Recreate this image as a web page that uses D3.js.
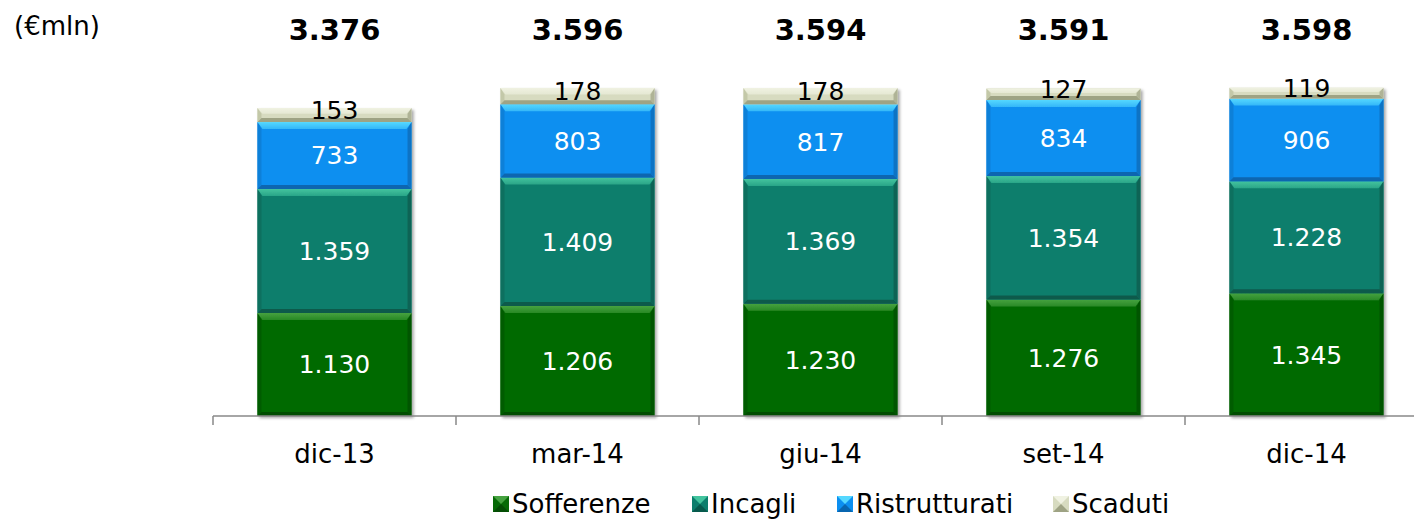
<!DOCTYPE html>
<html>
<head>
<meta charset="utf-8">
<script src="https://cdn.jsdelivr.net/npm/d3@7"></script>
<style>
  html, body { margin: 0; padding: 0; background: #fff; }
  svg { display: block; font-family: "DejaVu Sans", sans-serif; }
</style>
</head>
<body>
<svg id="chart" width="1414" height="520"></svg>
<script>
// Crediti deteriorati per trimestre (€mln)
const categories = ["dic-13", "mar-14", "giu-14", "set-14", "dic-14"];
const seriesNames = ["Sofferenze", "Incagli", "Ristrutturati", "Scaduti"];
const sofferenze = [1130, 1206, 1230, 1276, 1345];
const incagli = [1359, 1409, 1369, 1354, 1228];
const ristrutturati = [733, 803, 817, 834, 906];
const scaduti = [153, 178, 178, 127, 119];
const totals = [3376, 3596, 3594, 3591, 3598];

const palette = {
  Sofferenze:    { base: "#066a06", light: "#46a240", dark: "#044d04", side: "#055c05", label: "#ffffff" },
  Incagli:       { base: "#0c7e6c", light: "#43c49e", dark: "#075a4c", side: "#0a6f5f", label: "#ffffff" },
  Ristrutturati: { base: "#0c8ff0", light: "#55d8ff", dark: "#0866b0", side: "#0a80d8", label: "#ffffff" },
  Scaduti:       { base: "#d7dbc0", light: "#f0f2e2", dark: "#9ea384", side: "#c3c8a8", label: "#000000" }
};

const fmt = v => d3.format(",")(v).replace(/,/g, ".");

const svg = d3.select("#chart");
const baseY = 416;

const x = d3.scaleBand()
  .domain(categories)
  .range([213, 213 + 243 * categories.length])
  .paddingInner(0.366)
  .paddingOuter(0.183);

const y = d3.scaleLinear()
  .domain([0, 3376])
  .range([baseY, 108]);

const rows = categories.map((c, i) => ({
  cat: c,
  Sofferenze: sofferenze[i],
  Incagli: incagli[i],
  Ristrutturati: ristrutturati[i],
  Scaduti: scaduti[i],
  total: totals[i]
}));

const stacked = d3.stack().keys(seriesNames)(rows);

// drop shadow behind bars
const defs = svg.append("defs");
const f = defs.append("filter").attr("id", "shadow").attr("x", "-5%").attr("y", "-5%").attr("width", "115%").attr("height", "115%");
f.append("feDropShadow").attr("dx", 2).attr("dy", 2).attr("stdDeviation", 1.5).attr("flood-color", "#000").attr("flood-opacity", 0.35);

// vertical gradients for the top highlight of each series
seriesNames.forEach((name, i) => {
  const col = palette[name];
  const lg = defs.append("linearGradient").attr("id", "hl" + i).attr("x1", 0).attr("y1", 0).attr("x2", 0).attr("y2", 1);
  lg.append("stop").attr("offset", "0%").attr("stop-color", col.light);
  lg.append("stop").attr("offset", "100%").attr("stop-color", d3.interpolateRgb(col.light, col.base)(0.45));
});

// bevelled segment
function bevel(g, x0, y0, w, h, col, gid) {
  const b = Math.min(7, h / 2.5);
  const bb = Math.min(4, h / 3);
  g.append("rect").attr("x", x0).attr("y", y0).attr("width", w).attr("height", h).attr("fill", col.base);
  // left and right sides
  g.append("path").attr("fill", col.side)
    .attr("d", `M${x0},${y0} L${x0 + 4},${y0 + b} L${x0 + 4},${y0 + h - bb} L${x0},${y0 + h} Z`);
  g.append("path").attr("fill", col.dark).attr("opacity", 0.7)
    .attr("d", `M${x0 + w},${y0} L${x0 + w - 4},${y0 + b} L${x0 + w - 4},${y0 + h - bb} L${x0 + w},${y0 + h} Z`);
  // top highlight
  g.append("path").attr("fill", `url(#${gid})`)
    .attr("d", `M${x0},${y0} L${x0 + w},${y0} L${x0 + w - 5},${y0 + b} L${x0 + 5},${y0 + b} Z`);
  // bottom shade
  g.append("path").attr("fill", col.dark)
    .attr("d", `M${x0},${y0 + h} L${x0 + w},${y0 + h} L${x0 + w - 4},${y0 + h - bb} L${x0 + 4},${y0 + h - bb} Z`);
}

// bars
const barsG = svg.append("g");
categories.forEach((c, i) => {
  const g = barsG.append("g").attr("filter", "url(#shadow)");
  stacked.forEach((s, si) => {
    const d = s[i];
    const y0 = y(d[1]), y1 = y(d[0]);
    bevel(g, x(c), y0, x.bandwidth(), y1 - y0, palette[s.key], "hl" + si);
  });
});

// segment labels
stacked.forEach(s => {
  const col = palette[s.key];
  svg.append("g").selectAll("text")
    .data(s)
    .join("text")
    .attr("x", (d, i) => x(categories[i]) + x.bandwidth() / 2)
    .attr("y", d => {
      const mid = (y(d[0]) + y(d[1])) / 2;
      return s.key === "Scaduti" ? mid - 5 : mid;
    })
    .attr("dy", "0.36em")
    .attr("text-anchor", "middle")
    .attr("font-size", 25)
    .attr("fill", col.label)
    .text(d => fmt(d.data[s.key]));
});

// totals above bars
svg.append("g").selectAll("text")
  .data(rows)
  .join("text")
  .attr("x", d => x(d.cat) + x.bandwidth() / 2)
  .attr("y", 30)
  .attr("dy", "0.36em")
  .attr("text-anchor", "middle")
  .attr("font-size", 29)
  .attr("font-weight", "bold")
  .attr("fill", "#000")
  .text(d => fmt(d.total));

// unit label
svg.append("text")
  .attr("x", 14).attr("y", 26).attr("dy", "0.36em")
  .attr("font-size", 26).attr("fill", "#000")
  .text("(€mln)");

// category axis
const axisG = svg.append("g").attr("transform", `translate(0,${baseY})`);
axisG.append("line")
  .attr("x1", 213).attr("x2", 1414).attr("y1", 0).attr("y2", 0)
  .attr("stroke", "#888").attr("stroke-width", 1.5);
const tickPos = d3.range(categories.length + 1).map(i => x.range()[0] + i * x.step());
axisG.selectAll("line.tick")
  .data(tickPos)
  .join("line")
  .attr("class", "tick")
  .attr("x1", d => d).attr("x2", d => d)
  .attr("y1", 0).attr("y2", 9)
  .attr("stroke", "#888").attr("stroke-width", 1.5);
axisG.selectAll("text")
  .data(categories)
  .join("text")
  .attr("x", d => x(d) + x.bandwidth() / 2)
  .attr("y", 38)
  .attr("dy", "0.36em")
  .attr("text-anchor", "middle")
  .attr("font-size", 26)
  .attr("fill", "#000")
  .text(d => d);

// legend
const legendX = [493, 692, 837, 1053];
const legend = svg.append("g");
seriesNames.forEach((name, i) => {
  const col = palette[name];
  const g = legend.append("g").attr("transform", `translate(${legendX[i]},496)`);
  g.append("rect").attr("width", 16).attr("height", 16).attr("fill", col.base);
  g.append("path").attr("fill", col.light).attr("d", "M0,0 L16,0 L8,8 Z");
  g.append("path").attr("fill", col.dark).attr("d", "M0,16 L16,16 L8,8 Z");
  g.append("text")
    .attr("x", 19).attr("y", 8).attr("dy", "0.36em")
    .attr("font-size", 26).attr("fill", "#000")
    .text(name);
});
</script>
</body>
</html>
